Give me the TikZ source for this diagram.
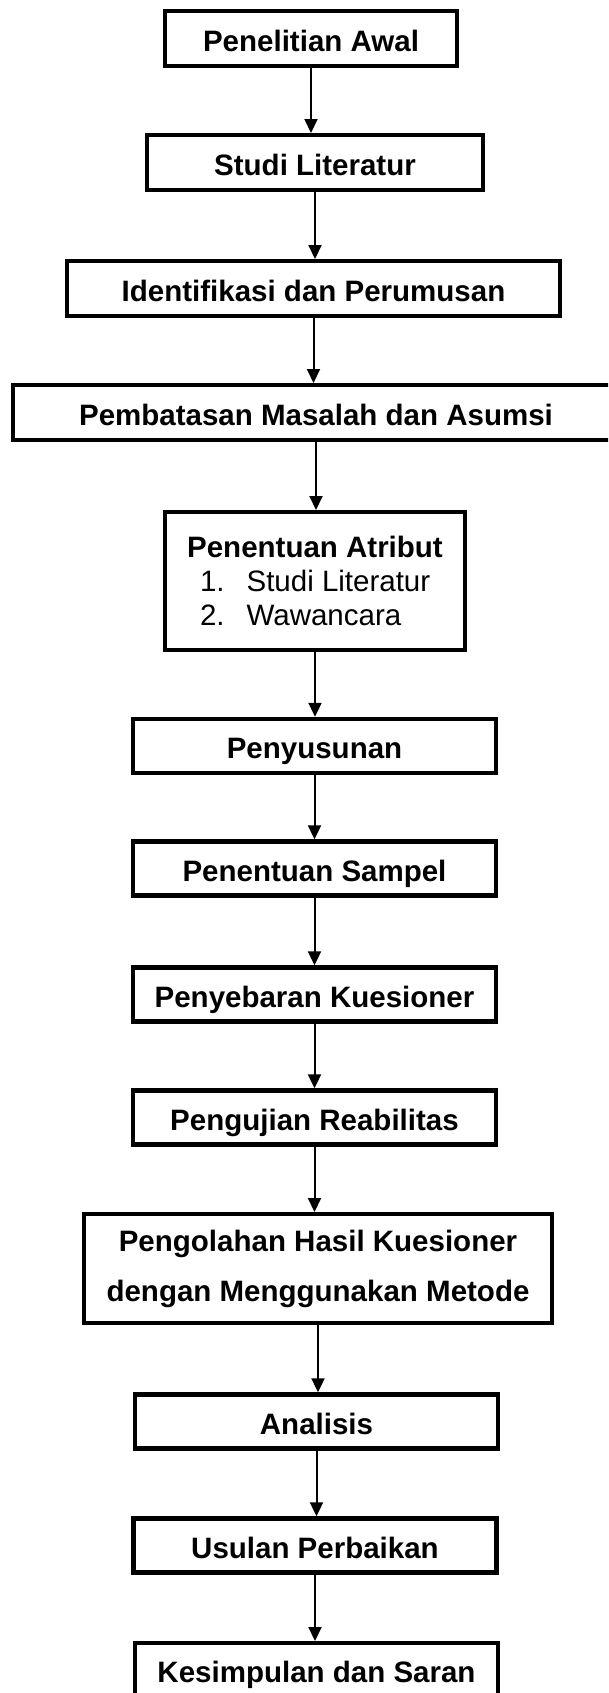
\documentclass[tikz,border=0pt]{standalone}
\usepackage{fontspec}
\setmainfont{Liberation Sans}
\usetikzlibrary{arrows.meta}
\tikzset{
	stage/.style={draw, line width=1.76pt, inner sep=0pt, align=center, font=\bfseries\fontsize{11.8}{13.6}\selectfont, minimum width=145.04pt, minimum height=21.6pt},
	oneline/.style={stage, text height=10pt, text depth=0pt},
	flow/.style={-{Triangle[width=5.2pt,length=5.6pt]}, line width=0.8pt}
}

\begin{document}
\begin{tikzpicture}[x=0.4pt, y=-0.4pt]
			\path[use as bounding box, clip] (0,0) rectangle (608,1693);
			\node[oneline, minimum width=116.64pt, minimum height=21.84pt] (awal) at (311,38.5) {Penelitian Awal};
			\node[oneline, minimum width=134.24pt, minimum height=21.84pt] (studi) at (315,162.5) {Studi Literatur};
			\node[oneline, minimum width=197.04pt, minimum height=21.84pt] (identifikasi) at (313.5,288.5) {Identifikasi dan Perumusan};
			\node[oneline, minimum width=242.24pt, minimum height=21.84pt] (batasan) at (316,412.5) {Pembatasan Masalah dan Asumsi};
			\node[stage, minimum width=119.84pt, minimum height=55.04pt] (atribut) at (315,581) {Penentuan Atribut\\
				\makebox[92pt][l]{\mdseries 1.\hspace{8.8pt}Studi Literatur}\\
				\makebox[92pt][l]{\mdseries 2.\hspace{8.8pt}Wawancara}};
			\node[oneline] (susun) at (314.5,746) {Penyusunan};
			\node[oneline] (sampel) at (314.5,868.5) {Penentuan Sampel};
			\node[oneline] (sebar) at (314.5,994.5) {Penyebaran Kuesioner};
			\node[oneline] (uji) at (314.5,1117.5) {Pengujian Reabilitas};
			\node[stage, minimum width=187.04pt, minimum height=43.44pt, font=\bfseries\fontsize{11.8}{20}\selectfont] (olah) at (318,1268.5) {Pengolahan Hasil Kuesioner\\dengan Menggunakan Metode};
			\node[oneline] (analisis) at (316.5,1421.5) {Analisis};
			\node[oneline] (usulan) at (315,1545.5) {Usulan Perbaikan};
			\node[oneline, minimum height=21.44pt] (simpulan) at (316.5,1670) {Kesimpulan dan Saran};
			\foreach \a/\b in {awal/studi, studi/identifikasi, identifikasi/batasan, batasan/atribut, atribut/susun, susun/sampel, sampel/sebar, sebar/uji, uji/olah, olah/analisis, analisis/usulan, usulan/simpulan}
				\draw[flow] (\a.south) -- (\a.south |- \b.north);
\end{tikzpicture}
\end{document}
